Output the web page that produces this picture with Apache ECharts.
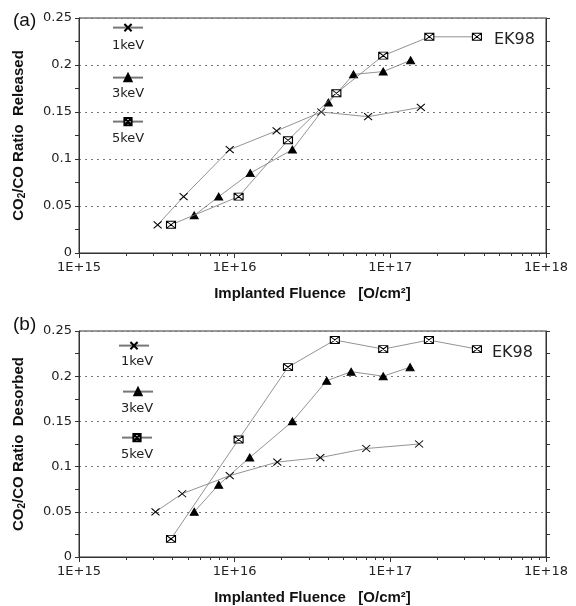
<!DOCTYPE html>
<html><head><meta charset="utf-8">
<script src="https://cdn.jsdelivr.net/npm/echarts@6/dist/echarts.min.js"></script>
<style>html,body{margin:0;padding:0;background:#fff}#c{width:576px;height:606px}</style>
</head><body><div id="c"></div><script>
// ---- data ----
const seriesNames = ['1keV', '3keV', '5keV'];
const xTickLabels = {15: '1E+15', 16: '1E+16', 17: '1E+17', 18: '1E+18'};
const yTickValues = [0, 0.05, 0.1, 0.15, 0.2, 0.25];
// (a) Released
const released1keV = [[3.2e15, 0.03], [4.7e15, 0.06], [9.3e15, 0.11], [1.86e16, 0.13], [3.6e16, 0.15], [7.2e16, 0.145], [1.57e17, 0.155]];
const released3keV = [[5.5e15, 0.04], [7.9e15, 0.06], [1.26e16, 0.085], [2.35e16, 0.11], [4.0e16, 0.16], [5.8e16, 0.19], [9.0e16, 0.193], [1.35e17, 0.205]];
const released5keV = [[3.9e15, 0.03], [1.06e16, 0.06], [2.2e16, 0.12], [4.5e16, 0.17], [9.0e16, 0.21], [1.78e17, 0.23], [3.6e17, 0.23]];
// (b) Desorbed
const desorbed1keV = [[3.1e15, 0.05], [4.6e15, 0.07], [9.3e15, 0.09], [1.88e16, 0.105], [3.55e16, 0.11], [7.0e16, 0.12], [1.53e17, 0.125]];
const desorbed3keV = [[5.5e15, 0.05], [7.9e15, 0.08], [1.25e16, 0.11], [2.35e16, 0.15], [3.9e16, 0.195], [5.6e16, 0.205], [9.0e16, 0.2], [1.34e17, 0.21]];
const desorbed5keV = [[3.9e15, 0.02], [1.06e16, 0.13], [2.2e16, 0.21], [4.4e16, 0.24], [9.0e16, 0.23], [1.77e17, 0.24], [3.6e17, 0.23]];

// minor log ticks 2..9 of each decade
const xMinorTicks = [];
for (let d = 15; d < 18; d++) for (let m = 2; m <= 9; m++) xMinorTicks.push(m * Math.pow(10, d));

const FONT = 'DejaVu Sans';
const SYM_X = 'path://M0,0L10,9M10,0L0,9';
const SYM_BOX = 'path://M0,0L12,0L12,9L0,9Z M0,0L12,9 M12,0L0,9';
const symbols = [SYM_X, 'triangle', SYM_BOX];
const symSizes = [[8, 7], [8, 7], [9, 7]];
const fills = ['#000', '#000', '#fff'];

const grids = [
  {left: 77, top: 18, width: 469, height: 235, show: true, borderColor: '#333', borderWidth: 1, backgroundColor: 'transparent'},
  {left: 77, top: 331, width: 469, height: 231, show: true, borderColor: '#333', borderWidth: 1, backgroundColor: 'transparent'}
];
const titlesY = ['Released', 'Desorbed'];
const dataSets = [[released1keV, released3keV, released5keV], [desorbed1keV, desorbed3keV, desorbed5keV]];

const xAxes = [], yAxes = [], series = [];
grids.forEach((g, gi) => {
  xAxes.push({
    type: 'log', logBase: 10, min: 1e15, max: 1e18, gridIndex: gi, splitNumber: 3,
    name: 'Implanted Fluence   [O/cm²]', nameLocation: 'middle', nameGap: 33,
    nameTextStyle: {fontFamily: 'Liberation Sans', fontWeight: 'bold', fontSize: 15, color: '#111'},
    axisLine: {show: true, lineStyle: {color: '#333', width: 1}},
    axisTick: {show: true, length: 5, lineStyle: {color: '#333'}},
    axisLabel: {showMaxLabel: true, showMinLabel: true, hideOverlap: false,
      fontFamily: FONT, fontSize: 13, color: '#222', margin: 8,
      formatter: v => xTickLabels[Math.round(Math.log10(v))] || ''},
    splitLine: {show: false}, minorTick: {show: false}
  });
  xAxes.push({
    type: 'log', logBase: 10, min: 1e15, max: 1e18, gridIndex: gi, position: 'bottom',
    axisLine: {show: false},
    axisTick: {show: true, length: 3, customValues: xMinorTicks, lineStyle: {color: '#333'}},
    axisLabel: {show: false}, splitLine: {show: false}
  });
  yAxes.push({
    type: 'value', min: 0, max: 0.25, interval: 0.05, gridIndex: gi, position: 'left',
    name: '{a|CO}{s|2}{a|/CO Ratio  ' + titlesY[gi] + '}', nameLocation: 'middle', nameGap: 52,
    nameTextStyle: {rich: {
      a: {fontFamily: 'Liberation Sans', fontWeight: 'bold', fontSize: 15, color: '#111', lineHeight: 16},
      s: {fontFamily: 'Liberation Sans', fontWeight: 'bold', fontSize: 10, color: '#111', lineHeight: 10, verticalAlign: 'bottom', padding: [9, 0, 0, 0]}
    }},
    axisLine: {show: true, lineStyle: {color: '#333', width: 1}},
    axisTick: {show: true, length: 4, lineStyle: {color: '#333'}},
    minorTick: {show: true, splitNumber: 2, length: 4, lineStyle: {color: '#333'}},
    axisLabel: {fontFamily: FONT, fontSize: 13, color: '#222', margin: 7},
    splitLine: {show: true, lineStyle: {color: '#777', type: [2, 4], width: 1}}
  });
  yAxes.push({
    type: 'value', min: 0, max: 0.25, interval: 0.05, gridIndex: gi, position: 'right',
    axisLine: {show: true, lineStyle: {color: '#333', width: 1}},
    axisTick: {show: true, length: 4, lineStyle: {color: '#333'}},
    minorTick: {show: true, splitNumber: 2, length: 4, lineStyle: {color: '#333'}},
    axisLabel: {show: false}, splitLine: {show: false}
  });
  dataSets[gi].forEach((d, si) => {
    series.push({
      name: seriesNames[si], type: 'line', xAxisIndex: gi * 2, yAxisIndex: gi * 2, data: d,
      symbol: symbols[si], symbolSize: symSizes[si], showAllSymbol: true,
      lineStyle: {color: '#777', width: 0.8},
      itemStyle: {color: fills[si], borderColor: '#000', borderWidth: 1},
      z: 3 + si
    });
  });
});

// legends (one per series, placed per panel)
const legendTops = [[23, 73, 117], [341, 387, 433]];
const legendLefts = [[112, 112, 112], [118, 122, 121]];
const legends = [];
const graphics = [];
const legendTextY = [[47, 95, 140], [363, 410, 456]];
const legendTextX = [[128, 128, 128], [137, 137, 137]];
[0, 1].forEach(gi => {
  seriesNames.forEach((n, si) => {
    legends.push({data: [n], left: legendLefts[gi][si], top: legendTops[gi][si], itemWidth: 30, itemHeight: 9,
      formatter: () => '', selectedMode: false, padding: 0});
    graphics.push({type: 'text', left: legendTextX[gi][si] - 16, top: legendTextY[gi][si] - 8,
      style: {text: n, font: '13px "DejaVu Sans"', fill: '#222'}});
  });
});
graphics.push({type: 'text', left: 13, top: 11, style: {text: '(a)', font: '19px "Liberation Sans"', fill: '#111'}});
graphics.push({type: 'text', left: 13, top: 315, style: {text: '(b)', font: '19px "Liberation Sans"', fill: '#111'}});
graphics.push({type: 'text', left: 494, top: 32, style: {text: 'EK98', font: '16px "DejaVu Sans"', fill: '#222'}});
graphics.push({type: 'text', left: 492, top: 345, style: {text: 'EK98', font: '16px "DejaVu Sans"', fill: '#222'}});

const chart = echarts.init(document.getElementById('c'), null, {renderer: 'canvas'});
chart.setOption({
  backgroundColor: '#fff',
  animation: false,
  grid: grids,
  xAxis: xAxes,
  yAxis: yAxes,
  legend: legends,
  graphic: graphics,
  series: series
});
</script></body></html>
